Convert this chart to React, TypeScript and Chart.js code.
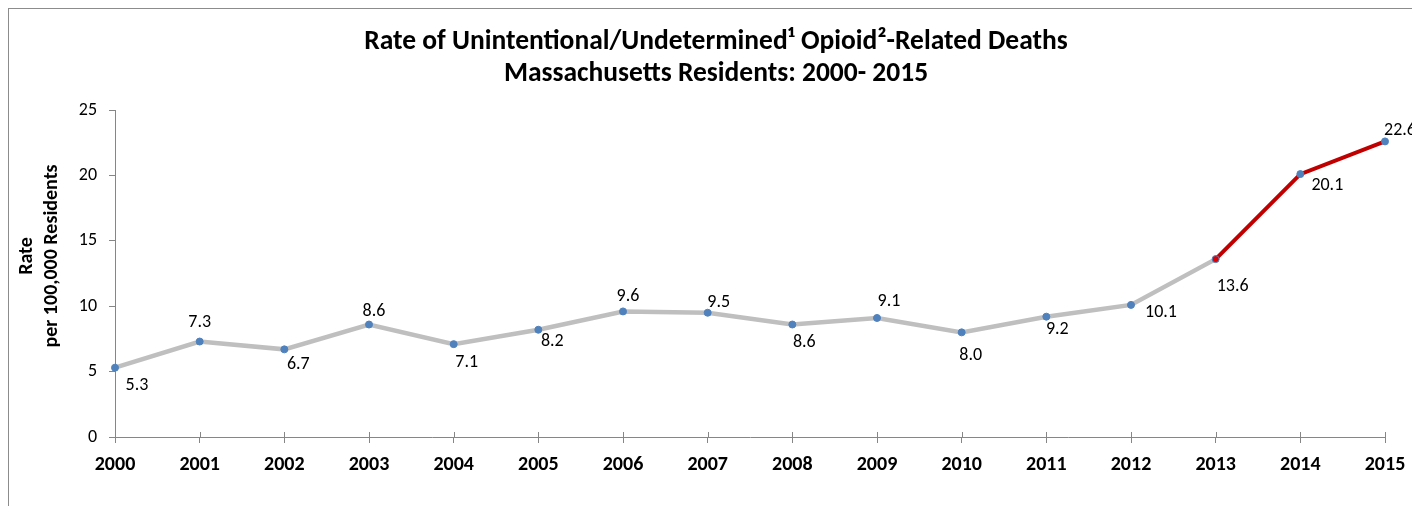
import React, { useEffect, useRef } from 'react';
import { Chart, registerables } from 'chart.js';

Chart.register(...registerables);

const years = ['2000', '2001', '2002', '2003', '2004', '2005', '2006', '2007', '2008', '2009', '2010', '2011', '2012', '2013', '2014', '2015'];
const rates = [5.3, 7.3, 6.7, 8.6, 7.1, 8.2, 9.6, 9.5, 8.6, 9.1, 8.0, 9.2, 10.1, 13.6, 20.1, 22.6];
const yTickValues = [0, 5, 10, 15, 20, 25];
const titleLines = ['Rate of Unintentional/Undetermined\u00B9 Opioid\u00B2-Related Deaths', 'Massachusetts Residents: 2000- 2015'];
const yTitleLines = ['Rate', 'per 100,000 Residents'];
const highlightFromIndex = 13;

// label placement (style): offset of label centre from its point, in px
const labelOffsets: [number, number][] = [
  [22, 18], [0, -19], [14, 15], [5, -13], [13, 18], [14, 12], [5, -15], [11, -10],
  [12, 18], [12, -16], [9, 23], [11, 13], [30, 8], [17, 27], [27, 11], [15, -11],
];

const FONT = 'Carlito, Calibri, Lato, sans-serif';
const AXIS_GRAY = '#868686';
const LINE_GRAY = '#BFBFBF';
const RED = '#C00000';
const BLUE = '#4F81BD';

const W = 1403;
const H = 497;
const CA = { left: 106, right: 1376, top: 101, bottom: 428 };

const decorPlugin = {
  id: 'decor',
  afterDatasetsDraw(chart: any) {
    const ctx = chart.ctx;
    const meta = chart.getDatasetMeta(0);
    ctx.save();
    const xs = chart.scales.x;
    ctx.strokeStyle = AXIS_GRAY;
    ctx.lineWidth = 1;
    years.forEach((_, i) => {
      const px = Math.round(xs.getPixelForTick(i)) + 0.5;
      ctx.beginPath();
      ctx.moveTo(px, chart.chartArea.bottom);
      ctx.lineTo(px, chart.chartArea.bottom - 5);
      ctx.stroke();
    });
    ctx.fillStyle = '#000';
    ctx.font = `18px ${FONT}`;
    ctx.textAlign = 'center';
    ctx.textBaseline = 'middle';
    meta.data.forEach((pt: any, i: number) => {
      const [dx, dy] = labelOffsets[i];
      ctx.fillText(rates[i].toFixed(1), pt.x + dx, pt.y + dy);
    });
    ctx.restore();
  },
  afterDraw(chart: any) {
    const ctx = chart.ctx;
    ctx.save();
    ctx.fillStyle = '#000';
    ctx.textAlign = 'center';
    ctx.textBaseline = 'alphabetic';
    ctx.font = `bold 27.5px ${FONT}`;
    ctx.fillText(titleLines[0], 707, 40);
    ctx.fillText(titleLines[1], 707, 72);
    ctx.font = `bold 20px ${FONT}`;
    ctx.textBaseline = 'middle';
    ctx.translate(0, 247);
    ctx.rotate(-Math.PI / 2);
    ctx.fillText(yTitleLines[0], 0, 18);
    ctx.fillText(yTitleLines[1], 0, 43);
    ctx.restore();
  },
};

export default function App() {
  const ref = useRef<HTMLCanvasElement>(null);
  useEffect(() => {
    document.body.style.margin = '0';
    document.documentElement.style.overflow = 'hidden';
    document.body.style.overflow = 'hidden';
    if (!ref.current) return;
    const chart = new Chart(ref.current, {
      type: 'line',
      data: {
        labels: years,
        datasets: [
          {
            data: rates,
            borderColor: LINE_GRAY,
            borderWidth: 4.5,
            tension: 0,
            clip: false as any,
            pointRadius: 3.5,
            pointBorderWidth: 1,
            pointBackgroundColor: rates.map((_, i) => (i === highlightFromIndex ? '#E00000' : BLUE)),
            pointBorderColor: BLUE,
            segment: {
              borderColor: (c: any) => (c.p0DataIndex >= highlightFromIndex ? RED : LINE_GRAY),
              borderWidth: (c: any) => (c.p0DataIndex >= highlightFromIndex ? 4 : 4.5),
            },
          },
        ],
      },
      options: {
        responsive: false,
        animation: false,
        devicePixelRatio: 1,
        layout: { padding: { top: CA.top, right: W - CA.right, left: 0, bottom: 0 } },
        plugins: { legend: { display: false }, title: { display: false }, tooltip: { enabled: false } },
        scales: {
          x: {
            offset: false,
            grid: { display: true, drawOnChartArea: false, drawTicks: true, tickLength: 6, color: AXIS_GRAY },
            border: { display: true, color: AXIS_GRAY, width: 1 },
            ticks: { color: '#000', font: { family: FONT, size: 20, weight: 'bold' }, padding: 10, maxRotation: 0, autoSkip: false },
            afterFit: (s: any) => {
              s.height = H - CA.bottom;
              s.paddingLeft = 0;
              s.paddingRight = 0;
            },
          },
          y: {
            min: 0,
            max: 25,
            afterBuildTicks: (s: any) => { s.ticks = yTickValues.map((v) => ({ value: v })); },
            grid: { display: true, drawOnChartArea: false, drawTicks: true, tickLength: 6, color: AXIS_GRAY },
            border: { display: true, color: AXIS_GRAY, width: 1 },
            ticks: { color: '#000', font: { family: FONT, size: 18 }, padding: 12 },
            afterFit: (s: any) => {
              s.width = CA.left;
              s.paddingTop = 0;
              s.paddingBottom = 0;
            },
          },
        },
      },
      plugins: [decorPlugin],
    });
    return () => chart.destroy();
  }, []);
  return (
    <div style={{ paddingLeft: 8, paddingTop: 8, width: W + 1, height: H + 1, background: '#fff' }}>
      <div style={{ width: W, height: H, borderLeft: '1px solid #8c8c8c', borderTop: '1px solid #8c8c8c', background: '#fff' }}>
        <canvas ref={ref} width={W} height={H} style={{ display: 'block', width: W, height: H }} />
      </div>
    </div>
  );
}
